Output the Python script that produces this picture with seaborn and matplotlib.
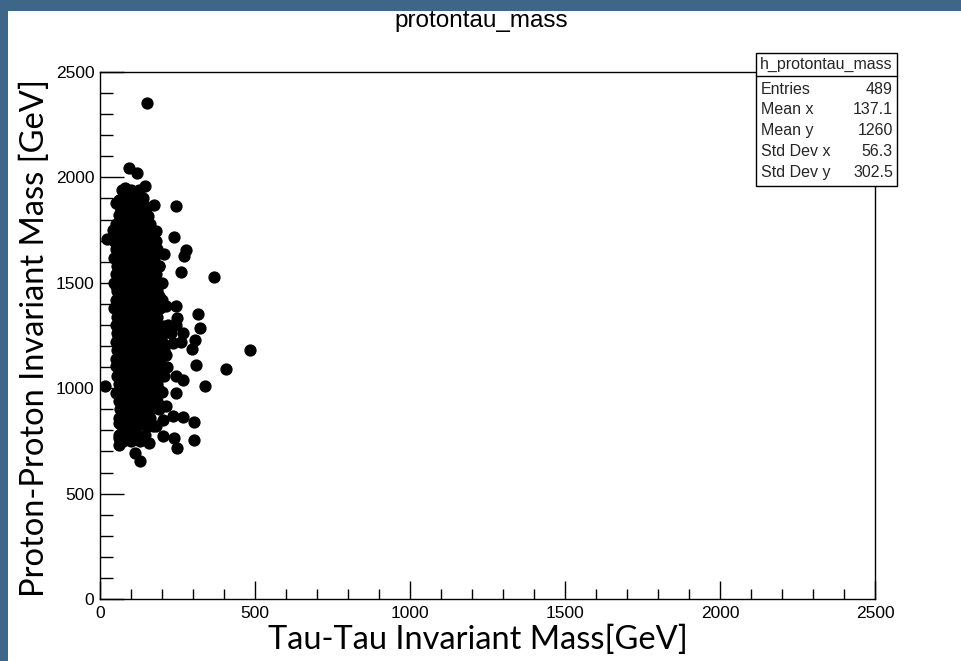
import matplotlib
matplotlib.use("Agg")
import matplotlib.pyplot as plt
from matplotlib.patches import Rectangle
from matplotlib.lines import Line2D
from matplotlib.ticker import MultipleLocator
import pandas as pd
import seaborn as sns

sns.set_style("white")
plt.rcParams['font.family'] = ['Liberation Sans', 'DejaVu Sans']

# ---- data (GeV) ----
# isolated / edge points
outline_tau = [152, 92, 118, 82, 146, 60, 52, 89, 127, 175, 245, 84, 154, 62, 41, 116, 181, 240,
               22, 57, 100, 148, 54, 105, 170, 208, 278, 272, 261, 369, 78, 138, 191, 73, 62, 127,
               52, 105, 170, 191, 245, 315, 247, 321, 62, 116, 148, 213, 57, 84, 138, 202, 267,
               305, 297, 485, 57, 105, 170, 234, 213, 62, 127, 310, 405, 52, 116, 191, 245, 267,
               339, 17, 52, 116, 191, 245, 73, 138, 213, 234, 267, 302, 202, 62, 127, 170, 202,
               240, 302, 62, 159, 248, 62, 114, 129]
outline_pp = [2352, 2045, 2021, 1950, 1961, 1895, 1879, 1863, 1887, 1871, 1866, 1808, 1816, 1752,
              1752, 1752, 1744, 1717, 1710, 1705, 1721, 1705, 1657, 1665, 1657, 1638, 1657, 1626,
              1550, 1528, 1626, 1610, 1578, 1562, 1507, 1547, 1483, 1499, 1499, 1436, 1388, 1354,
              1333, 1285, 1436, 1420, 1373, 1388, 1341, 1309, 1309, 1293, 1262, 1227, 1186, 1179,
              1246, 1246, 1246, 1214, 1159, 1151, 1151, 1108, 1092, 1104, 1088, 1104, 1056, 1040,
              1009, 1009, 977, 993, 993, 977, 914, 929, 914, 866, 863, 838, 847, 835, 835, 819,
              771, 763, 752, 763, 740, 716, 732, 692, 654]

# dense core: proton-proton mass levels and tau-tau masses on each level
core_pp_levels = [1940, 1900, 1860, 1820, 1780, 1740, 1700, 1660, 1620, 1580, 1540, 1500, 1460,
                  1420, 1380, 1340, 1300, 1260, 1220, 1180, 1140, 1100, 1060, 1020, 980, 940,
                  900, 860, 820, 780, 750]
core_tau_rows = [
    [70, 100, 125],
    [75, 105, 140],
    [65, 95, 120, 150],
    [60, 90, 115, 140],
    [50, 80, 105, 130, 160],
    [55, 85, 110, 140, 165],
    [45, 75, 100, 125, 155, 180],
    [50, 80, 110, 135, 160, 185],
    [45, 70, 100, 125, 150, 175],
    [55, 85, 110, 140, 165, 190],
    [50, 75, 100, 130, 155, 180],
    [45, 70, 95, 120, 150, 175, 200],
    [55, 80, 110, 135, 160, 185],
    [50, 75, 100, 125, 150, 175, 200],
    [45, 70, 95, 120, 145, 170, 195],
    [55, 80, 105, 130, 160, 185],
    [50, 75, 100, 125, 150, 175, 220, 245],
    [55, 80, 105, 130, 155, 180, 205, 230],
    [50, 75, 100, 125, 150, 175, 200, 260],
    [55, 80, 105, 130, 155, 180, 205],
    [50, 75, 100, 125, 150, 175, 195],
    [60, 85, 110, 135, 160, 185, 215],
    [55, 80, 105, 130, 155, 180, 205],
    [60, 85, 110, 135, 160, 185],
    [65, 90, 115, 140, 165, 200],
    [60, 85, 110, 135, 160, 185],
    [65, 90, 115, 140, 165, 190],
    [60, 85, 110, 135, 160],
    [70, 95, 120, 150, 180],
    [60, 90, 115, 145],
    [75, 100, 130],
]

x_ticks = [0, 500, 1000, 1500, 2000, 2500]
y_ticks = [0, 500, 1000, 1500, 2000, 2500]

title = "protontau_mass"
x_label = "Tau-Tau Invariant Mass[GeV]"
y_label = "Proton-Proton Invariant Mass [GeV]"
stats_name = "h_protontau_mass"
stats_keys = ["Entries", "Mean x", "Mean y", "Std Dev x", "Std Dev y"]
stats_vals = ["489", "137.1", "1260", "56.3", "302.5"]

tau = list(outline_tau)
pp = list(outline_pp)
for lvl, row in zip(core_pp_levels, core_tau_rows):
    tau += row
    pp += [lvl] * len(row)
df = pd.DataFrame({"tau": tau, "pp": pp})

# ---- figure ----
W, H = 961, 661
fig = plt.figure(figsize=(W / 100, H / 100), dpi=100, facecolor="#3e6688")
fig.add_artist(Rectangle((8 / W, 0), (W - 8) / W, (H - 11) / H, transform=fig.transFigure,
                         fc="white", ec="none", zorder=0))

def fx(px):
    return px / W

def fy(py):
    return 1 - py / H

ax = fig.add_axes([fx(100), fy(599), fx(875) - fx(100), fy(72) - fy(599)])
ax.set_facecolor("white")
sns.scatterplot(data=df, x="tau", y="pp", ax=ax, color="black", s=78, linewidth=0,
                legend=False, zorder=3)
ax.set_xlim(0, 2500)
ax.set_ylim(0, 2500)
ax.set_xticks(x_ticks)
ax.set_yticks(y_ticks)
ax.set_xticklabels([str(v) for v in x_ticks])
ax.set_yticklabels([str(v) for v in y_ticks])
ax.xaxis.set_minor_locator(MultipleLocator(100))
ax.yaxis.set_minor_locator(MultipleLocator(100))
ax.tick_params(which="both", direction="in", color="black", width=1,
               labelsize=12.5, labelcolor="black", top=False, right=False,
               bottom=True, left=True)
ax.tick_params(axis="x", which="major", length=13, pad=5)
ax.tick_params(axis="x", which="minor", length=7)
ax.tick_params(axis="y", which="major", length=17, pad=4)
ax.tick_params(axis="y", which="minor", length=9.5)
for sp in ax.spines.values():
    sp.set_color("black")
    sp.set_linewidth(1)
    sp.set_visible(True)
ax.set_xlabel("")
ax.set_ylabel("")

fig.text(fx(481), fy(21), title, ha="center", va="center", fontsize=17.5, color="black")
fig.text(fx(478), fy(640), x_label, ha="center", va="center", fontsize=23.5,
         family=["Lato", "DejaVu Sans"], fontweight="normal", color="black")
fig.text(fx(35), fy(338), y_label, ha="center", va="center", rotation=90, fontsize=23.5,
         family=["Lato", "DejaVu Sans"], fontweight="normal", color="black")

# stats box
bx0, bx1, by0, by1, byh = 756, 897, 53, 186, 76
fig.add_artist(Rectangle((fx(bx0), fy(by1)), fx(bx1) - fx(bx0), fy(by0) - fy(by1),
                         transform=fig.transFigure, fc="white", ec="black", lw=1, zorder=10))
fig.add_artist(Line2D([fx(bx0), fx(bx1)], [fy(byh), fy(byh)], transform=fig.transFigure,
                      color="black", lw=1, zorder=11))
fig.text(fx((bx0 + bx1) / 2), fy(64), stats_name, ha="center", va="center",
         fontsize=11.5, zorder=12)
for i, (k, v) in enumerate(zip(stats_keys, stats_vals)):
    yy = 89 + i * 20.8
    fig.text(fx(bx0 + 5), fy(yy), k, ha="left", va="center", fontsize=11.5, zorder=12)
    fig.text(fx(bx1 - 4), fy(yy), v, ha="right", va="center", fontsize=11.5, zorder=12)

fig.savefig("out.png", dpi=100, facecolor=fig.get_facecolor())
